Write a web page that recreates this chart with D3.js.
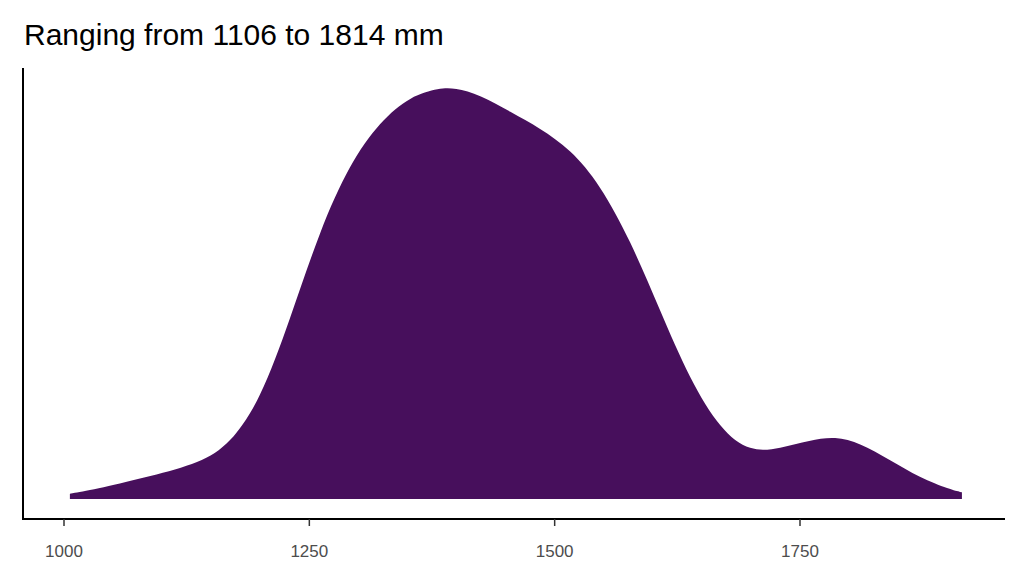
<!DOCTYPE html>
<html><head><meta charset="utf-8">
<script src="https://cdn.jsdelivr.net/npm/d3@7"></script>
<style>body{margin:0;background:#fff}</style>
</head><body>
<script>
// density estimate
let xs = [1006, 1037, 1088, 1139, 1169, 1200, 1230, 1261, 1291, 1322, 1353, 1383, 1398, 1424, 1455, 1485, 1516, 1546, 1577, 1607, 1638, 1669, 1699, 1730, 1760, 1786, 1811, 1842, 1872, 1903, 1915]
let dens = [0.00004, 0.00008, 0.00017, 0.00027, 0.00041, 0.00074, 0.00134, 0.00202, 0.00251, 0.00283, 0.00302, 0.00308, 0.00308, 0.00303, 0.00290, 0.00278, 0.00262, 0.00236, 0.00194, 0.00142, 0.00089, 0.00052, 0.00035, 0.00038, 0.00044, 0.00047, 0.00042, 0.00029, 0.00016, 0.00007, 0.00005]
let ticks = [1000, 1250, 1500, 1750]
let title = 'Ranging from 1106 to 1814 mm'

let svg = d3.select('body').append('svg').attr('width', 1024).attr('height', 576)
let x = d3.scaleLinear().domain([1000, 1750]).range([64, 800])
let y = d3.scaleLinear().domain([0, 0.00308]).range([499, 88])

let pts = xs.map(function (d, i) { return [d, dens[i]] })
svg.append('path').datum(pts)
  .attr('fill', '#470f5c')
  .attr('d', d3.area().curve(d3.curveBasis)
    .x(function (d) { return x(d[0]) })
    .y0(y(0)).y1(function (d) { return y(d[1]) }))

svg.append('line').attr('x1', 23).attr('x2', 23).attr('y1', 68).attr('y2', 519.5).attr('stroke', '#000').attr('stroke-width', 2)
svg.append('line').attr('x1', 22).attr('x2', 1005).attr('y1', 519).attr('y2', 519).attr('stroke', '#000').attr('stroke-width', 2)

let g = svg.append('g').selectAll('g').data(ticks).enter().append('g')
g.append('line').attr('x1', function (d) { return x(d) }).attr('x2', function (d) { return x(d) })
  .attr('y1', 519).attr('y2', 526).attr('stroke', '#333').attr('stroke-width', 1.5)
g.append('text').attr('x', function (d) { return x(d) }).attr('y', 557)
  .attr('text-anchor', 'middle').attr('font-family', 'Liberation Sans, Arial, sans-serif')
  .attr('font-size', 17).attr('fill', '#4d4d4d').text(function (d) { return d })

svg.append('text').attr('x', 24).attr('y', 45).attr('font-family', 'Liberation Sans, Arial, sans-serif')
  .attr('font-size', 30).attr('fill', '#000').text(title)
</script>
</body></html>
